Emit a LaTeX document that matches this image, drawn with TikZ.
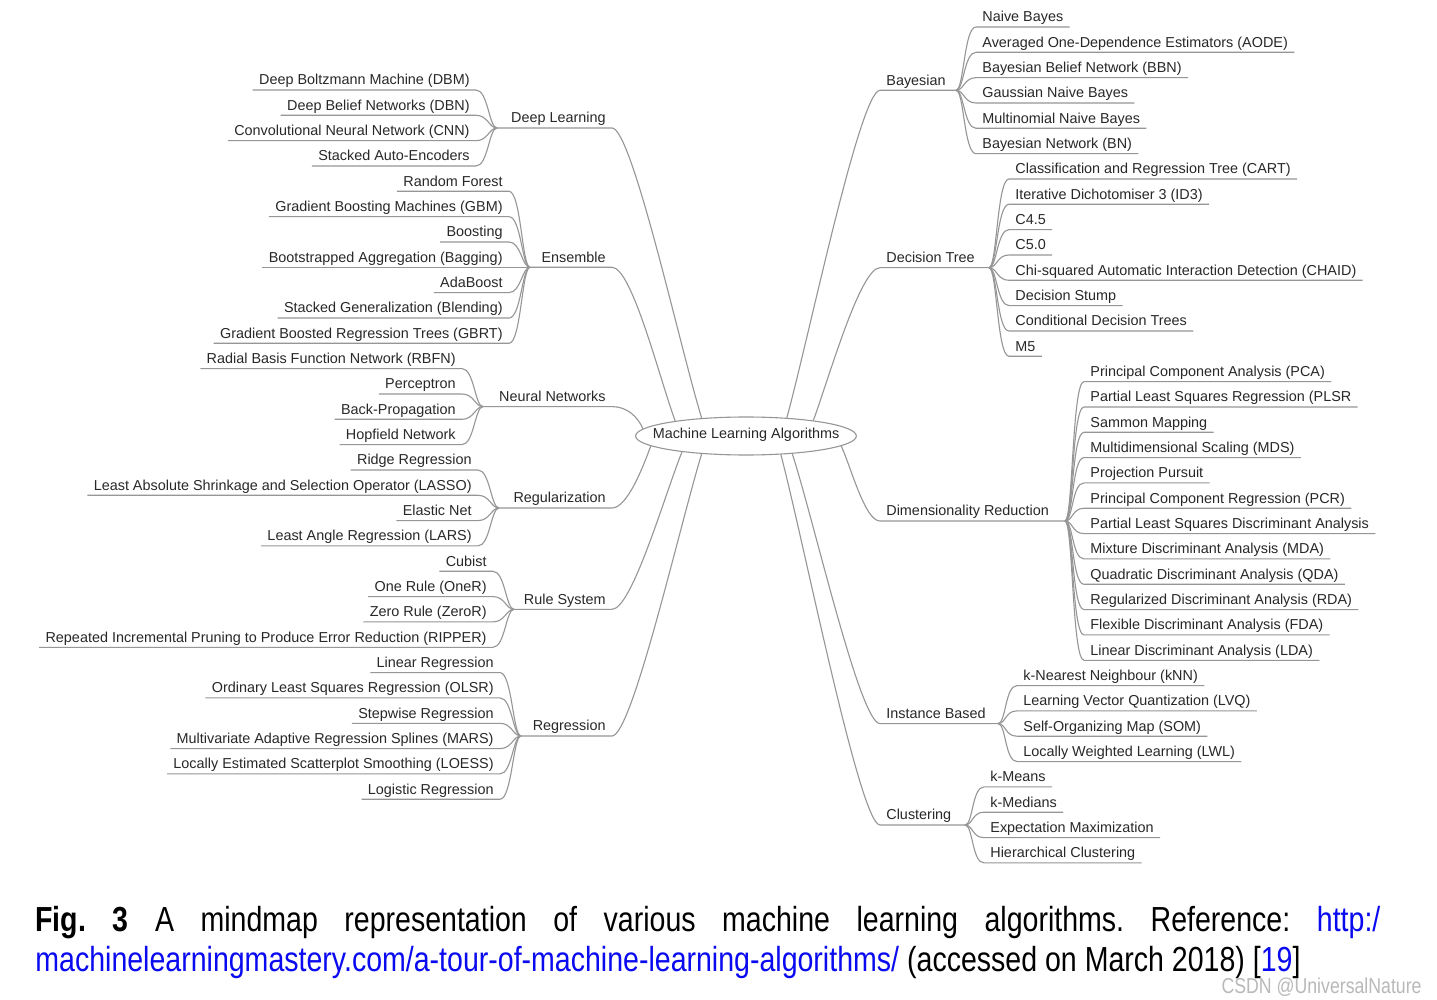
\documentclass[tikz,border=0pt]{standalone}
\usepackage{fontspec}
\setmainfont{Liberation Sans}
\newfontfamily\capfont[FakeStretch=0.82]{Liberation Sans}
\usetikzlibrary{shapes.geometric}
\definecolor{wiregray}{RGB}{150,150,150}
\definecolor{inkgray}{RGB}{40,40,40}
\definecolor{linkblue}{RGB}{10,10,240}

\begin{document}
\begin{tikzpicture}[x=0.5pt,y=-0.5pt,
    txt/.style={font=\fontsize{7.2}{9}\selectfont,text=inkgray,inner xsep=3pt,inner ysep=0pt,text height=5.2pt,text depth=2.4pt},
    leafl/.style={txt,anchor=south east},
    leafr/.style={txt,anchor=south west},
    wire/.style={draw=wiregray,line width=0.55pt},
    twigl/.style={wire,to path={.. controls +(-8,0) and +(12,0) .. (\tikztotarget.south east) -- (\tikztotarget.south west)}},
    twigr/.style={wire,to path={.. controls +(8,0) and +(-12,0) .. (\tikztotarget.south west) -- (\tikztotarget.south east)}},
    hub/.style={ellipse,wire,txt,inner xsep=-7.6pt,inner ysep=0pt,minimum width=110pt,minimum height=19pt},
    figcap/.style={font=\capfont\fontsize{17.4}{20}\selectfont,text width=672.5pt,align=justify,inner sep=0pt}]
  \path[fill=white] (0,0) rectangle (1437,1000);
  \useasboundingbox (0,0) rectangle (1437,1000);

  % centre
  \node[hub] (mla) at (746,436) {Machine Learning Algorithms};

  % left categories
  \node[txt,anchor=south east] (dl) at (612,128) {Deep Learning};
  \node[txt,anchor=south east] (ens) at (612,267.3) {Ensemble};
  \node[txt,anchor=south east] (nn) at (612,406.6) {Neural Networks};
  \node[txt,anchor=south east] (reg) at (612,508) {Regularization};
  \node[txt,anchor=south east] (rul) at (612,609.3) {Rule System};
  \node[txt,anchor=south east] (regr) at (612,736) {Regression};
  \coordinate (dlf) at (497,128);
  \coordinate (ensf) at (530,267.3);
  \coordinate (nnf) at (483,406.6);
  \coordinate (regf) at (499,508);
  \coordinate (rulf) at (514,609.3);
  \coordinate (regrf) at (521,736);

  % right categories
  \node[txt,anchor=south west] (bay) at (880,90.3) {Bayesian};
  \node[txt,anchor=south west] (dt) at (880,267.7) {Decision Tree};
  \node[txt,anchor=south west] (dr) at (880,521) {Dimensionality Reduction};
  \node[txt,anchor=south west] (ib) at (880,723.6) {Instance Based};
  \node[txt,anchor=south west] (clu) at (880,825) {Clustering};
  \coordinate (bayf) at (956,90.3);
  \coordinate (dtf) at (989,267.7);
  \coordinate (drf) at (1065,521);
  \coordinate (ibf) at (998,723.6);
  \coordinate (cluf) at (965,825);

  % trunks
  \draw[wire] (mla.158) .. controls +(-22,-72) and +(20,0) .. (dl.south east) -- (dlf);
  \draw[wire] (mla.168) .. controls +(-15,-40) and +(20,0) .. (ens.south east) -- (ensf);
  \draw[wire] (mla.176) .. controls +(-5,-12) and +(15,0) .. (nn.south east) -- (nnf);
  \draw[wire] (mla.186) .. controls +(-8,22) and +(15,0) .. (reg.south east) -- (regf);
  \draw[wire] (mla.194) .. controls +(-17,42) and +(20,0) .. (rul.south east) -- (rulf);
  \draw[wire] (mla.202) .. controls +(-22,72) and +(20,0) .. (regr.south east) -- (regrf);
  \draw[wire] (mla.24) .. controls +(22,-80) and +(-20,0) .. (bay.south west) -- (bayf);
  \draw[wire] (mla.13) .. controls +(15,-40) and +(-20,0) .. (dt.south west) -- (dtf);
  \draw[wire] (mla.-6) .. controls +(10,22) and +(-15,0) .. (dr.south west) -- (drf);
  \draw[wire] (mla.-21) .. controls +(22,68) and +(-20,0) .. (ib.south west) -- (ibf);
  \draw[wire] (mla.-28) .. controls +(24,92) and +(-20,0) .. (clu.south west) -- (cluf);

  % deep learning
  \node[leafl] (dbm) at (476,90) {Deep Boltzmann Machine (DBM)};
  \node[leafl] (dbn) at (476,115.3) {Deep Belief Networks (DBN)};
  \node[leafl] (cnn) at (476,140.7) {Convolutional Neural Network (CNN)};
  \node[leafl] (sae) at (476,166) {Stacked Auto-Encoders};
  \path (dlf) edge[twigl] (dbm) edge[twigl] (dbn) edge[twigl] (cnn) edge[twigl] (sae);

  % ensemble
  \node[leafl] (rf) at (509,191.3) {Random Forest};
  \node[leafl] (gbm) at (509,216.7) {Gradient Boosting Machines (GBM)};
  \node[leafl] (boost) at (509,242) {Boosting};
  \node[leafl] (bag) at (509,267.3) {Bootstrapped Aggregation (Bagging)};
  \node[leafl] (ada) at (509,292.6) {AdaBoost};
  \node[leafl] (blend) at (509,318) {Stacked Generalization (Blending)};
  \node[leafl] (gbrt) at (509,343.3) {Gradient Boosted Regression Trees (GBRT)};
  \path (ensf) edge[twigl] (rf) edge[twigl] (gbm) edge[twigl] (boost) edge[twigl] (bag)
    edge[twigl] (ada) edge[twigl] (blend) edge[twigl] (gbrt);

  % neural networks
  \node[leafl] (rbfn) at (462,368.6) {Radial Basis Function Network (RBFN)};
  \node[leafl] (perc) at (462,394) {Perceptron};
  \node[leafl] (bp) at (462,419.3) {Back-Propagation};
  \node[leafl] (hop) at (462,444.6) {Hopfield Network};
  \path (nnf) edge[twigl] (rbfn) edge[twigl] (perc) edge[twigl] (bp) edge[twigl] (hop);

  % regularization
  \node[leafl] (ridge) at (478,470) {Ridge Regression};
  \node[leafl] (lasso) at (478,495.3) {Least Absolute Shrinkage and Selection Operator (LASSO)};
  \node[leafl] (enet) at (478,520.6) {Elastic Net};
  \node[leafl] (lars) at (478,545.9) {Least Angle Regression (LARS)};
  \path (regf) edge[twigl] (ridge) edge[twigl] (lasso) edge[twigl] (enet) edge[twigl] (lars);

  % rule system
  \node[leafl] (cub) at (493,571.3) {Cubist};
  \node[leafl] (oner) at (493,596.6) {One Rule (OneR)};
  \node[leafl] (zeror) at (493,621.9) {Zero Rule (ZeroR)};
  \node[leafl] (ripper) at (493,647.3) {Repeated Incremental Pruning to Produce Error Reduction (RIPPER)};
  \path (rulf) edge[twigl] (cub) edge[twigl] (oner) edge[twigl] (zeror) edge[twigl] (ripper);

  % regression
  \node[leafl] (linr) at (500,672.6) {Linear Regression};
  \node[leafl] (olsr) at (500,697.9) {Ordinary Least Squares Regression (OLSR)};
  \node[leafl] (swr) at (500,723.3) {Stepwise Regression};
  \node[leafl] (mars) at (500,748.6) {Multivariate Adaptive Regression Splines (MARS)};
  \node[leafl] (loess) at (500,773.9) {Locally Estimated Scatterplot Smoothing (LOESS)};
  \node[leafl] (logr) at (500,799.2) {Logistic Regression};
  \path (regrf) edge[twigl] (linr) edge[twigl] (olsr) edge[twigl] (swr) edge[twigl] (mars)
    edge[twigl] (loess) edge[twigl] (logr);

  % bayesian
  \node[leafr] (nb) at (976,27) {Naive Bayes};
  \node[leafr] (aode) at (976,52.3) {Averaged One-Dependence Estimators (AODE)};
  \node[leafr] (bbn) at (976,77.7) {Bayesian Belief Network (BBN)};
  \node[leafr] (gnb) at (976,103) {Gaussian Naive Bayes};
  \node[leafr] (mnb) at (976,128.3) {Multinomial Naive Bayes};
  \node[leafr] (bn) at (976,153.7) {Bayesian Network (BN)};
  \path (bayf) edge[twigr] (nb) edge[twigr] (aode) edge[twigr] (bbn) edge[twigr] (gnb)
    edge[twigr] (mnb) edge[twigr] (bn);

  % decision tree
  \node[leafr] (cart) at (1009,179) {Classification and Regression Tree (CART)};
  \node[leafr] (id3) at (1009,204.3) {Iterative Dichotomiser 3 (ID3)};
  \node[leafr] (c45) at (1009,229.6) {C4.5};
  \node[leafr] (c50) at (1009,255) {C5.0};
  \node[leafr] (chaid) at (1009,280.3) {Chi-squared Automatic Interaction Detection (CHAID)};
  \node[leafr] (stump) at (1009,305.6) {Decision Stump};
  \node[leafr] (cdt) at (1009,331) {Conditional Decision Trees};
  \node[leafr] (m5) at (1009,356.3) {M5};
  \path (dtf) edge[twigr] (cart) edge[twigr] (id3) edge[twigr] (c45) edge[twigr] (c50)
    edge[twigr] (chaid) edge[twigr] (stump) edge[twigr] (cdt) edge[twigr] (m5);

  % dimensionality reduction
  \node[leafr] (pca) at (1084,381.6) {Principal Component Analysis (PCA)};
  \node[leafr] (plsr) at (1084,407) {Partial Least Squares Regression (PLSR};
  \node[leafr] (sam) at (1084,432.3) {Sammon Mapping};
  \node[leafr] (mds) at (1084,457.6) {Multidimensional Scaling (MDS)};
  \node[leafr] (pp) at (1084,482.9) {Projection Pursuit};
  \node[leafr] (pcr) at (1084,508.3) {Principal Component Regression (PCR)};
  \node[leafr] (plsda) at (1084,533.6) {Partial Least Squares Discriminant Analysis};
  \node[leafr] (mda) at (1084,558.9) {Mixture Discriminant Analysis (MDA)};
  \node[leafr] (qda) at (1084,584.3) {Quadratic Discriminant Analysis (QDA)};
  \node[leafr] (rda) at (1084,609.6) {Regularized Discriminant Analysis (RDA)};
  \node[leafr] (fda) at (1084,634.9) {Flexible Discriminant Analysis (FDA)};
  \node[leafr] (lda) at (1084,660.3) {Linear Discriminant Analysis (LDA)};
  \path (drf) edge[twigr] (pca) edge[twigr] (plsr) edge[twigr] (sam) edge[twigr] (mds)
    edge[twigr] (pp) edge[twigr] (pcr) edge[twigr] (plsda) edge[twigr] (mda)
    edge[twigr] (qda) edge[twigr] (rda) edge[twigr] (fda) edge[twigr] (lda);

  % instance based
  \node[leafr] (knn) at (1017,685.6) {k-Nearest Neighbour (kNN)};
  \node[leafr] (lvq) at (1017,710.9) {Learning Vector Quantization (LVQ)};
  \node[leafr] (som) at (1017,736.2) {Self-Organizing Map (SOM)};
  \node[leafr] (lwl) at (1017,761.6) {Locally Weighted Learning (LWL)};
  \path (ibf) edge[twigr] (knn) edge[twigr] (lvq) edge[twigr] (som) edge[twigr] (lwl);

  % clustering
  \node[leafr] (km) at (984,786.9) {k-Means};
  \node[leafr] (kmed) at (984,812.2) {k-Medians};
  \node[leafr] (em) at (984,837.6) {Expectation Maximization};
  \node[leafr] (hc) at (984,862.9) {Hierarchical Clustering};
  \path (cluf) edge[twigr] (km) edge[twigr] (kmed) edge[twigr] (em) edge[twigr] (hc);

  % caption
  \node[figcap,anchor=north west] (cap) at (35,906) {\frenchspacing\textbf{Fig.} \textbf{3} A mindmap representation of various machine learning algorithms. Reference: \textcolor{linkblue}{http:/}\linebreak \textcolor{linkblue}{machinelearningmastery.com/a-tour-of-machine-learning-algorithms/} (accessed on March 2018) [\textcolor{linkblue}{19}]};
  \node[anchor=base east,inner sep=0pt,text=gray!55,font=\capfont\fontsize{10.8}{11}\selectfont] (wm) at (1422,993) {CSDN @UniversalNature};
\end{tikzpicture}
\end{document}
